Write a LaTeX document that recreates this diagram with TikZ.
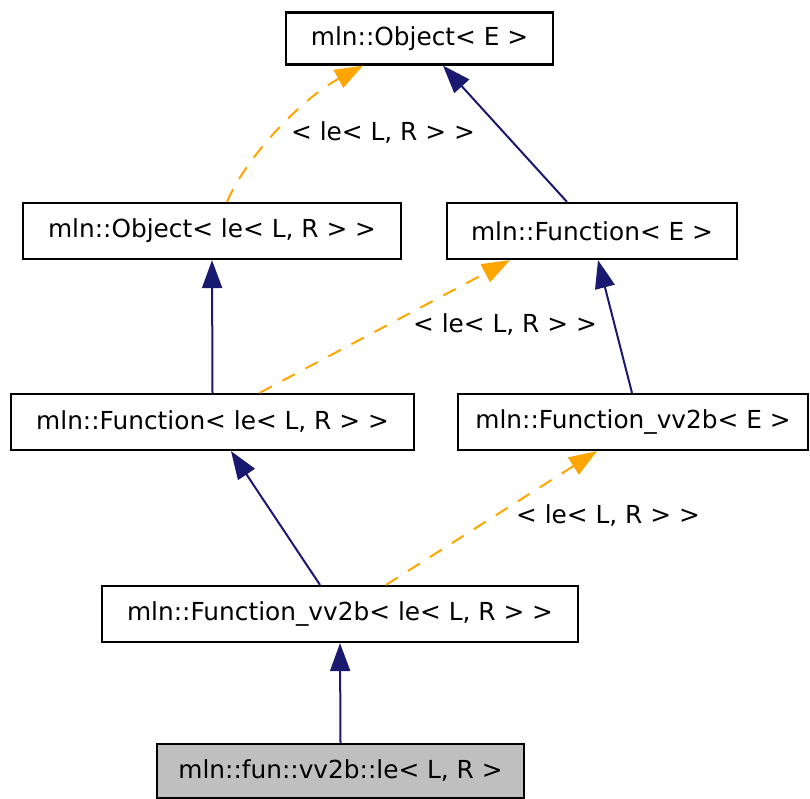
\documentclass[tikz,border=0pt]{standalone}
\usepackage{fontspec}
\setmainfont{DejaVu Sans}
\usetikzlibrary{arrows.meta}
\definecolor{inhblue}{RGB}{25,25,112}
\definecolor{tplorange}{RGB}{255,165,0}
\definecolor{leafgray}{RGB}{191,191,191}
\tikzset{
	cls/.style={draw, line width=2.2pt, minimum height=56pt, inner sep=0pt},
	inherit/.style={draw=inhblue, line width=2pt, -{Triangle[length=28pt,width=20pt]}},
	tmpl/.style={draw=tplorange, line width=2pt, dash pattern=on 14pt off 12pt, -{Triangle[length=28pt,width=20pt]}}
}
\begin{document}
\begin{tikzpicture}[x=1pt, y=-1pt, line join=miter, font=\fontsize{24.8}{29}\selectfont]
				\useasboundingbox (0, 0) rectangle (810, 798);
				\node[cls, minimum width=267pt, minimum height=52pt] (objE) at (419.5, 38.5) {mln::Object< E >};
				\node[cls, minimum width=378pt] (objL) at (212, 231) {mln::Object< le< L, R > >};
				\node[cls, minimum width=290pt] (funE) at (592, 231) {mln::Function< E >};
				\node[cls, minimum width=403pt] (funL) at (212.5, 422) {mln::Function< le< L, R > >};
				\node[cls, minimum width=350pt] (vvE) at (633, 422) {mln::Function\_vv2b< E >};
				\node[cls, minimum width=476pt] (vvL) at (340, 614) {mln::Function\_vv2b< le< L, R > >};
				\node[cls, fill=leafgray, minimum width=367pt, minimum height=54pt] (leaf) at (340.5, 771) {mln::fun::vv2b::le< L, R >};
				% edge labels
				\node (lblA) at (383, 133) {< le< L, R > >};
				\node (lblB) at (505, 325) {< le< L, R > >};
				\node (lblC) at (608, 516) {< le< L, R > >};
				% edges
				\draw[tmpl] ([xshift=15pt]objL.north) .. controls +(18, -43) and +(-63, 34) .. ([xshift=-56.5pt]objE.south);
				\draw[inherit] ([xshift=-25pt]funE.north) -- ([xshift=23.5pt]objE.south);
				\draw[inherit] (funL.north) -- (objL.south);
				\draw[tmpl] ([xshift=47pt]funL.north) -- ([xshift=-82pt]funE.south);
				\draw[inherit] ([xshift=-1pt]vvE.north) -- ([xshift=6pt]funE.south);
				\draw[inherit] ([xshift=-20pt]vvL.north) -- ([xshift=18.5pt]funL.south);
				\draw[tmpl] ([xshift=46pt]vvL.north) -- ([xshift=-36pt]vvE.south);
				\draw[inherit] (leaf.north) -- (vvL.south);
			\end{tikzpicture}
\end{document}
